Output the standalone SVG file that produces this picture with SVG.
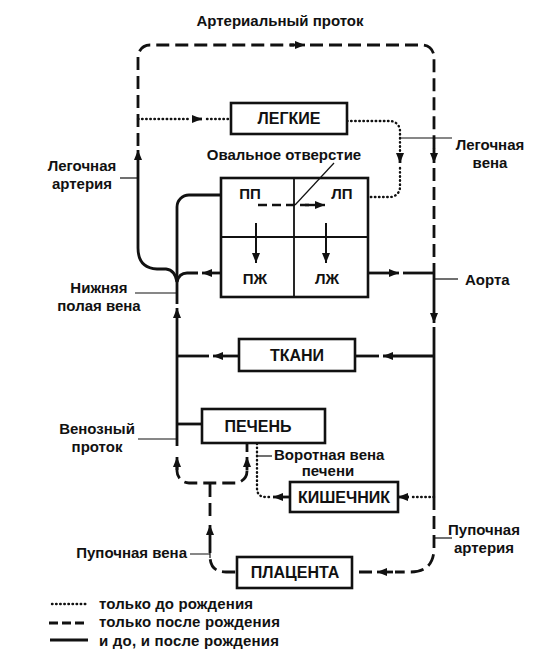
<svg xmlns="http://www.w3.org/2000/svg" width="547" height="658" viewBox="0 0 547 658">
<style>
text{font-family:"Liberation Sans",Arial,sans-serif;font-weight:bold;fill:#111}
.lbl{font-size:15px}
.node{font-size:16px;text-anchor:middle}
.mid{text-anchor:middle}
.box{fill:#fff;stroke:#111;stroke-width:2.6}
.sol{fill:none;stroke:#111;stroke-width:2.8}
.dash{fill:none;stroke:#111;stroke-width:2.8;stroke-dasharray:13 6}
.dot{fill:none;stroke:#111;stroke-width:2.4;stroke-dasharray:0.5 3.6;stroke-linecap:round}
.thin{fill:none;stroke:#111;stroke-width:1.2}
.arr{fill:none;stroke:#111;stroke-width:2.8;marker-end:url(#ah)}
</style>
<defs>
<marker id="ah" viewBox="0 0 10 8" refX="10" refY="4" markerWidth="10" markerHeight="8" markerUnits="userSpaceOnUse" orient="auto">
<path d="M0,0 L10,4 L0,8 Z" fill="#111" stroke="none"/>
</marker>
</defs>
<rect width="547" height="658" fill="#fff"/>

<g id="connectors">
<!-- top loop (arterial duct) -->
<path class="dash" d="M138,146 V57 A12,12 0 0 1 150,45 H294"/>
<path class="arr" d="M290,45 H305"/>
<path class="dash" d="M310,45 H422 A12,12 0 0 1 434,57 V150"/>
<path class="arr" d="M434,148 V163"/>
<path class="dash" d="M434,168 V272"/>
<!-- pulmonary artery -->
<path class="arr" d="M138,165 V150"/>
<path class="sol" d="M138,165 V248 Q138,268 157,269 H166 Q175,270 177,282"/>
<!-- to lungs -->
<path class="dot" d="M138,119 H191"/>
<path class="arr" d="M192,119 H202"/>
<path class="dot" d="M207,119 H231"/>
<!-- pulmonary vein -->
<path class="dot" d="M347,121 H390 A10,10 0 0 1 400,131 V152"/>
<path class="arr" d="M400,153 V163"/>
<path class="dot" d="M400,168 V187 A10,10 0 0 1 390,197 H368"/>
<!-- RV to pulmonary artery -->
<path class="arr" d="M221,273 H202"/>
<path class="sol" d="M198,273 H187 Q179,273 177,282"/>
<!-- IVC into right atrium -->
<path class="sol" d="M177,304 V207 A12,12 0 0 1 189,195 H221"/>
<path class="arr" d="M177,423 V308"/>
<!-- aorta -->
<path class="arr" d="M368,273 H399"/>
<path class="sol" d="M403,273 H434"/>
<path class="arr" d="M434,272 V323"/>
<path class="sol" d="M434,327 V497"/>
<!-- tissues -->
<path class="arr" d="M434,356 H383"/>
<path class="sol" d="M379,356 H355"/>
<path class="arr" d="M239,356 H213"/>
<path class="sol" d="M209,356 H177"/>
<!-- liver -->
<path class="sol" d="M177,424 H202"/>
<path class="sol" d="M177,423 V446"/>
<path class="arr" d="M177,470 V457"/>
<path class="dash" d="M177,466 V471 A12,12 0 0 0 189,483 H235 A12,12 0 0 0 247,471 V466"/>
<path class="arr" d="M247,470 V457"/>
<path class="sol" d="M247,443 V452"/>
<!-- umbilical vein -->
<path class="dash" d="M210,484 V520"/>
<path class="arr" d="M210,540 V525"/>
<path class="dash" d="M210,540 V556 Q210,572 226,572 H237"/>
<!-- intestine -->
<path class="dot" d="M434,497 H410"/>
<path class="arr" d="M409,497 H398"/>
<path class="arr" d="M290,497 H273"/>
<path class="dot" d="M269,497 H266 Q257,497 257,488 V443"/>
<!-- umbilical artery -->
<path class="dash" d="M434,497 V548 Q434,572 410,572 H395"/>
<path class="arr" d="M393,572 H377"/>
<path class="dash" d="M372,572 H352"/>
<!-- heart internal -->
<path class="dash" d="M258,205 H310" style="stroke-width:2.4;stroke-dasharray:9 5"/>
<path class="arr" d="M305,205 H325" style="stroke-width:2.4"/>
<path class="arr" d="M256,223 V263" style="stroke-width:2"/>
<path class="arr" d="M326,223 V263" style="stroke-width:2"/>
<!-- label leader lines -->
<path class="thin" d="M120,178 H138"/>
<path class="thin" d="M135,293 H177"/>
<path class="thin" d="M138,439 H177 M177,435 V443"/>
<path class="thin" d="M190,554 H210 M210,550 V558"/>
<path class="thin" d="M400,138 H452"/>
<path class="thin" d="M434,279 H458"/>
<path class="thin" d="M434,538 H452"/>
<path class="thin" d="M257,456 H272"/>
<path class="thin" d="M295,205 L334,163"/>
</g>

<g id="lungs"><rect class="box" x="231" y="103" width="116" height="31"/><text class="node" x="289" y="124">ЛЕГКИЕ</text></g>
<g id="heart">
<rect class="box" x="221" y="178" width="147" height="119" style="fill:none"/>
<path d="M294,178 V297 M221,237 H368" stroke="#111" stroke-width="1.8" fill="none"/>
<text class="lbl mid" x="250" y="199">ПП</text>
<text class="lbl mid" x="342" y="199">ЛП</text>
<text class="lbl mid" x="255" y="284">ПЖ</text>
<text class="lbl mid" x="327" y="284">ЛЖ</text>
</g>
<g id="tissues"><rect class="box" x="239" y="339" width="116" height="32"/><text class="node" x="297" y="361">ТКАНИ</text></g>
<g id="liver"><rect class="box" x="202" y="409" width="123" height="34"/><text class="node" x="258" y="432">ПЕЧЕНЬ</text></g>
<g id="intestine"><rect class="box" x="290" y="482" width="108" height="30"/><text class="node" x="344" y="503">КИШЕЧНИК</text></g>
<g id="placenta"><rect class="box" x="237" y="557" width="115" height="31"/><text class="node" x="295" y="578">ПЛАЦЕНТА</text></g>

<g id="labels">
<text class="lbl mid" x="280" y="26">Артериальный проток</text>
<text class="lbl mid" x="284" y="160">Овальное отверстие</text>
<text class="lbl mid" x="82" y="171">Легочная</text>
<text class="lbl mid" x="82" y="189">артерия</text>
<text class="lbl mid" x="490" y="150">Легочная</text>
<text class="lbl mid" x="490" y="168">вена</text>
<text class="lbl mid" x="99" y="293">Нижняя</text>
<text class="lbl mid" x="99" y="311">полая вена</text>
<text class="lbl" x="465" y="285">Аорта</text>
<text class="lbl mid" x="97" y="434">Венозный</text>
<text class="lbl mid" x="97" y="452">проток</text>
<text class="lbl" x="274" y="460">Воротная вена</text>
<text class="lbl mid" x="328" y="476">печени</text>
<text class="lbl" x="187" y="558" text-anchor="end">Пупочная вена</text>
<text class="lbl mid" x="484" y="535">Пупочная</text>
<text class="lbl mid" x="484" y="553">артерия</text>
</g>

<g id="legend">
<path class="dot" d="M52,604 H88"/>
<path class="dash" d="M49,623 H88" style="stroke-dasharray:9 4"/>
<path class="sol" d="M50,640 H88"/>
<text class="lbl" x="99" y="609" textLength="154">только до рождения</text>
<text class="lbl" x="99" y="627" textLength="181">только после рождения</text>
<text class="lbl" x="99" y="646" textLength="180">и до, и после рождения</text>
</g>
</svg>
